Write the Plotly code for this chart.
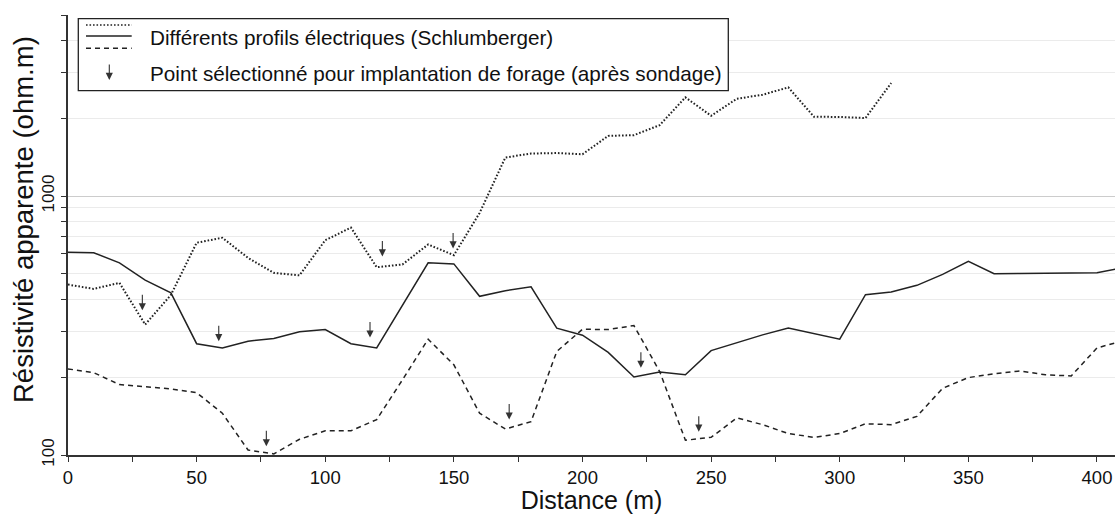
import numpy as np
import plotly.graph_objects as go

# ---------------- data ----------------
distance = [0, 10, 20, 30, 40, 50, 60, 70, 80, 90, 100, 110, 120, 130, 140, 150, 160, 170, 180, 190,
            200, 210, 220, 230, 240, 250, 260, 270, 280, 290, 300, 310, 320, 330, 340, 350, 360, 370,
            380, 390, 400, 410]

profil_solid = [607, 604, 552, 473, 423, 269, 259, 275, 282, 299, 305, 269, 259, 378, 552, 547, 410,
                431, 446, 309, 290, 249, 200, 209, 204, 253, 271, 291, 309, 295, 280, 416, 426, 452,
                498, 560, 501, 502, 503, 504, 505, 528]

distance_dotted = distance[:33]
profil_dotted = [455, 438, 462, 319, 415, 660, 690, 577, 505, 494, 675, 755, 531, 544, 650, 591, 860,
                 1408, 1459, 1465, 1450, 1707, 1718, 1878, 2404, 2041, 2375, 2460, 2627, 2023, 2020,
                 2000, 2731]

profil_dashed = [215, 208, 187, 183, 180, 174, 145, 104.5, 101, 115, 124, 124, 137, 195, 280, 223, 145,
                 126, 134.5, 251, 306, 305, 316, 210, 114, 117, 139, 131, 121, 117, 121, 132, 131, 141,
                 181, 199, 206, 211, 204, 202, 259, 276]

# selected drilling points (arrow tips)
arrow_x = [28.9, 58.6, 77.1, 117.4, 122.2, 149.7, 171.5, 222.7, 245.2]
arrow_y = [362, 275, 108, 284, 584, 627, 137, 217, 123]

y_major = [100, 1000]
y_major_text = ["100", "1000"]
y_minor = [200, 300, 400, 500, 600, 700, 800, 900, 2000, 3000, 4000, 5000]

legend_profiles = "Différents profils électriques (Schlumberger)"
legend_points = "Point sélectionné pour implantation de forage (après sondage)"
x_title = "Distance (m)"
y_title = "Résistivité apparente (ohm.m)"

# ---------------- figure ----------------
FONT = "Liberation Sans, Arial, sans-serif"
LINE = "#222222"
W, H = 1115, 514
ML, MR, MT, MB = 68, 0, 15, 59
PW, PH = W - ML - MR, H - MT - MB

def px2paper(px, py):
    return (px - ML) / PW, (H - MB - py) / PH

fig = go.Figure()

fig.add_trace(go.Scatter(x=distance_dotted, y=profil_dotted, mode="lines",
                         line=dict(color=LINE, width=2, dash="1.6px,1.9px"),
                         showlegend=False, hoverinfo="x+y"))
fig.add_trace(go.Scatter(x=distance, y=profil_solid, mode="lines",
                         line=dict(color=LINE, width=1.5),
                         showlegend=False, hoverinfo="x+y"))
fig.add_trace(go.Scatter(x=distance, y=profil_dashed, mode="lines",
                         line=dict(color=LINE, width=1.5, dash="5px,4px"),
                         showlegend=False, hoverinfo="x+y"))

ARROW = dict(showarrow=True, arrowhead=2, arrowsize=1.3, arrowwidth=1.1,
             arrowcolor="#333333", ax=0, ay=-17, standoff=0, text="")
annotations = []
for ax_, ay_ in zip(arrow_x, arrow_y):
    annotations.append(dict(x=ax_, y=np.log10(ay_), xref="x", yref="y", **ARROW))

# custom legend
lx0, ly0 = px2paper(78.3, 18.7)
lx1, ly1 = px2paper(728.3, 90.7)
shapes = [dict(type="rect", xref="paper", yref="paper", x0=lx0, y0=ly1, x1=lx1, y1=ly0,
               line=dict(color="#222222", width=1.3), fillcolor="white", layer="above")]
sx0, _ = px2paper(86, 0)
sx1, _ = px2paper(131.7, 0)
for py, dash, w in [(25, "1.6px,1.9px", 1.6), (36, "solid", 1.5), (48.3, "5px,4px", 1.5)]:
    _, yy = px2paper(0, py)
    shapes.append(dict(type="line", xref="paper", yref="paper", x0=sx0, x1=sx1, y0=yy, y1=yy,
                       line=dict(color=LINE, width=w, dash=dash), layer="above"))

tx, ty1 = px2paper(147.7, 38)
_, ty2 = px2paper(0, 74)
annotations.append(dict(x=tx, y=ty1, xref="paper", yref="paper", text=legend_profiles,
                        showarrow=False, xanchor="left", yanchor="middle",
                        font=dict(family=FONT, size=20.7, color="#111111")))
annotations.append(dict(x=tx, y=ty2, xref="paper", yref="paper", text=legend_points,
                        showarrow=False, xanchor="left", yanchor="middle",
                        font=dict(family=FONT, size=20.7, color="#111111")))
axp, ayp = px2paper(109.3, 80)
annotations.append(dict(x=axp, y=ayp, xref="paper", yref="paper", **ARROW))

# y axis title as rotated annotation (exact placement)
ytx, yty = px2paper(23, 220)
annotations.append(dict(x=ytx, y=yty, xref="paper", yref="paper", text=y_title,
                        showarrow=False, textangle=-90, xanchor="center", yanchor="middle",
                        font=dict(family=FONT, size=27.5, color="#111111")))

fig.update_layout(
    width=W, height=H,
    margin=dict(l=ML, r=MR, t=MT, b=MB),
    paper_bgcolor="white", plot_bgcolor="white",
    font=dict(family=FONT, color="#111111"),
    shapes=shapes, annotations=annotations,
    showlegend=False,
    xaxis=dict(range=[0, 407], tickmode="linear", tick0=0, dtick=50,
               ticks="outside", ticklen=5, tickcolor="#333333", tickwidth=1.3,
               showgrid=False, zeroline=False,
               showline=True, linecolor="#333333", linewidth=1.6,
               tickfont=dict(family=FONT, size=18.5, color="#111111"),
               minor=dict(tickmode="linear", tick0=0, dtick=25, ticks="outside", ticklen=5,
                          tickcolor="#333333", tickwidth=1.3, showgrid=False),
               title=dict(text=x_title, font=dict(family=FONT, size=25, color="#111111"),
                          standoff=6),
               automargin=False),
    yaxis=dict(type="log", range=[2, np.log10(5000)],
               tickmode="array", tickvals=y_major, ticktext=y_major_text, tickangle=-90,
               ticks="outside", ticklen=5, tickcolor="#333333", tickwidth=1.3,
               showgrid=True, gridcolor="#cccccc", gridwidth=1.2, zeroline=False,
               showline=True, linecolor="#333333", linewidth=1.6,
               tickfont=dict(family=FONT, size=17, color="#111111"),
               minor=dict(tickmode="array", tickvals=y_minor, ticks="outside", ticklen=5,
                          tickcolor="#333333", tickwidth=1.3, showgrid=True,
                          gridcolor="#ebebeb", gridwidth=1.2),
               automargin=False),
)

fig.write_html("out.html", config={"displayModeBar": False},
               post_script="document.body.style.margin='0';document.body.style.overflow='hidden';")
